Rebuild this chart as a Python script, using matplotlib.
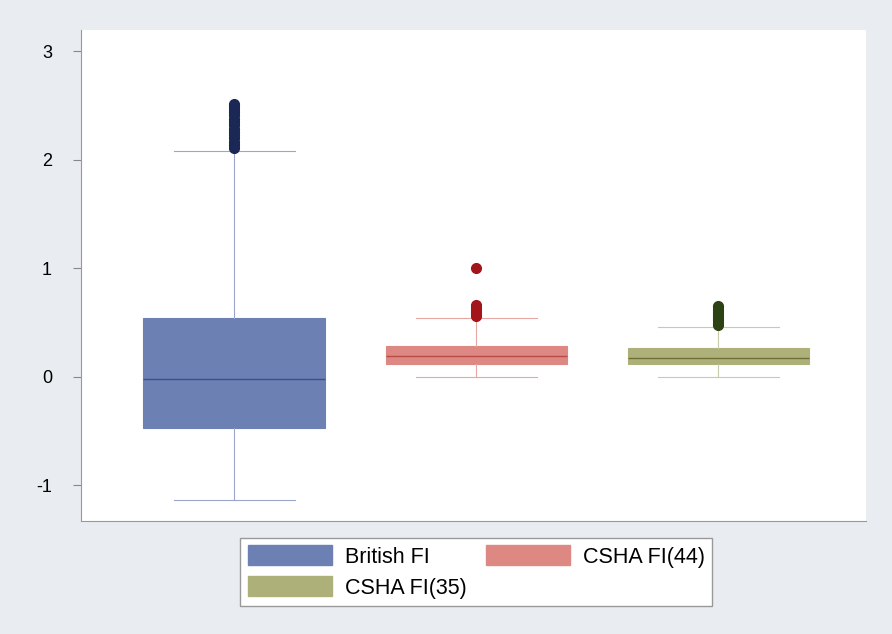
import matplotlib.pyplot as plt
from matplotlib.patches import Patch

plt.rcParams['font.family'] = ['Liberation Sans', 'DejaVu Sans']

# Box-plot summary values
labels = ['British FI', 'CSHA FI(44)', 'CSHA FI(35)']
medians = [-0.02, 0.19, 0.175]
q1 = [-0.47, 0.12, 0.12]
q3 = [0.545, 0.285, 0.27]
whislo = [-1.135, 0.0, 0.0]
whishi = [2.08, 0.545, 0.46]
fliers = [
    [2.11, 2.14, 2.17, 2.20, 2.23, 2.26, 2.29, 2.32, 2.35, 2.38, 2.41, 2.44, 2.47, 2.50, 2.52],
    [0.56, 0.58, 0.60, 0.62, 0.64, 0.66, 1.0],
    [0.48, 0.50, 0.52, 0.54, 0.56, 0.58, 0.60, 0.62, 0.64, 0.65],
]

fills = ['#6d80b4', '#de8883', '#aeb07a']
lines = ['#9aa6cc', '#e6a6a2', '#c8caa8']
medcols = ['#3c4f8a', '#b84a48', '#6e7038']
flier_cols = ['#1b2755', '#a3151a', '#2d4212']

fig = plt.figure(figsize=(8.92, 6.34), dpi=100)
fig.patch.set_facecolor('#e9ecf0')
ax = fig.add_axes([0.091, 0.178, 0.880, 0.775])
ax.set_facecolor('white')

for i in range(3):
    stats = [{
        'med': medians[i], 'q1': q1[i], 'q3': q3[i],
        'whislo': whislo[i], 'whishi': whishi[i], 'fliers': fliers[i],
    }]
    ax.bxp(stats, positions=[i + 1], widths=0.75, capwidths=0.5,
           patch_artist=True, showfliers=True,
           boxprops=dict(facecolor=fills[i], edgecolor=fills[i], linewidth=0.8),
           medianprops=dict(color=medcols[i], linewidth=1.0),
           whiskerprops=dict(color=lines[i], linewidth=0.8),
           capprops=dict(color=lines[i], linewidth=0.8),
           flierprops=dict(marker='o', markersize=7, markerfacecolor=flier_cols[i],
                           markeredgecolor=flier_cols[i]))

ax.set_xlim(0.368, 3.61)
ax.set_ylim(-1.33, 3.2)
ax.set_xticks([])
ax.set_yticks([-1, 0, 1, 2, 3])
ax.set_yticklabels(['-1', '0', '1', '2', '3'], fontsize=13)
ax.tick_params(axis='y', direction='out', length=6, color='#888888', pad=15)
for side in ['top', 'right']:
    ax.spines[side].set_visible(False)
ax.spines['left'].set_color('#999999')
ax.spines['bottom'].set_color('#999999')
ax.spines['left'].set_linewidth(0.8)
ax.spines['bottom'].set_linewidth(0.8)

# legend fills row by row: British, CSHA(44) / CSHA(35)
order = [0, 2, 1]
handles = [Patch(facecolor=fills[k], edgecolor=fills[k]) for k in order]
fig.legend(handles, [labels[k] for k in order], loc='center',
           bbox_to_anchor=(0.534, 0.098), ncol=2,
           fontsize=15.5, handlelength=3.9, handleheight=1.05, columnspacing=0.9,
           fancybox=False, edgecolor='#999999', framealpha=1, borderpad=0.35,
           labelspacing=0.4, handletextpad=0.6)

fig.savefig('out.png', dpi=100, facecolor=fig.get_facecolor())
